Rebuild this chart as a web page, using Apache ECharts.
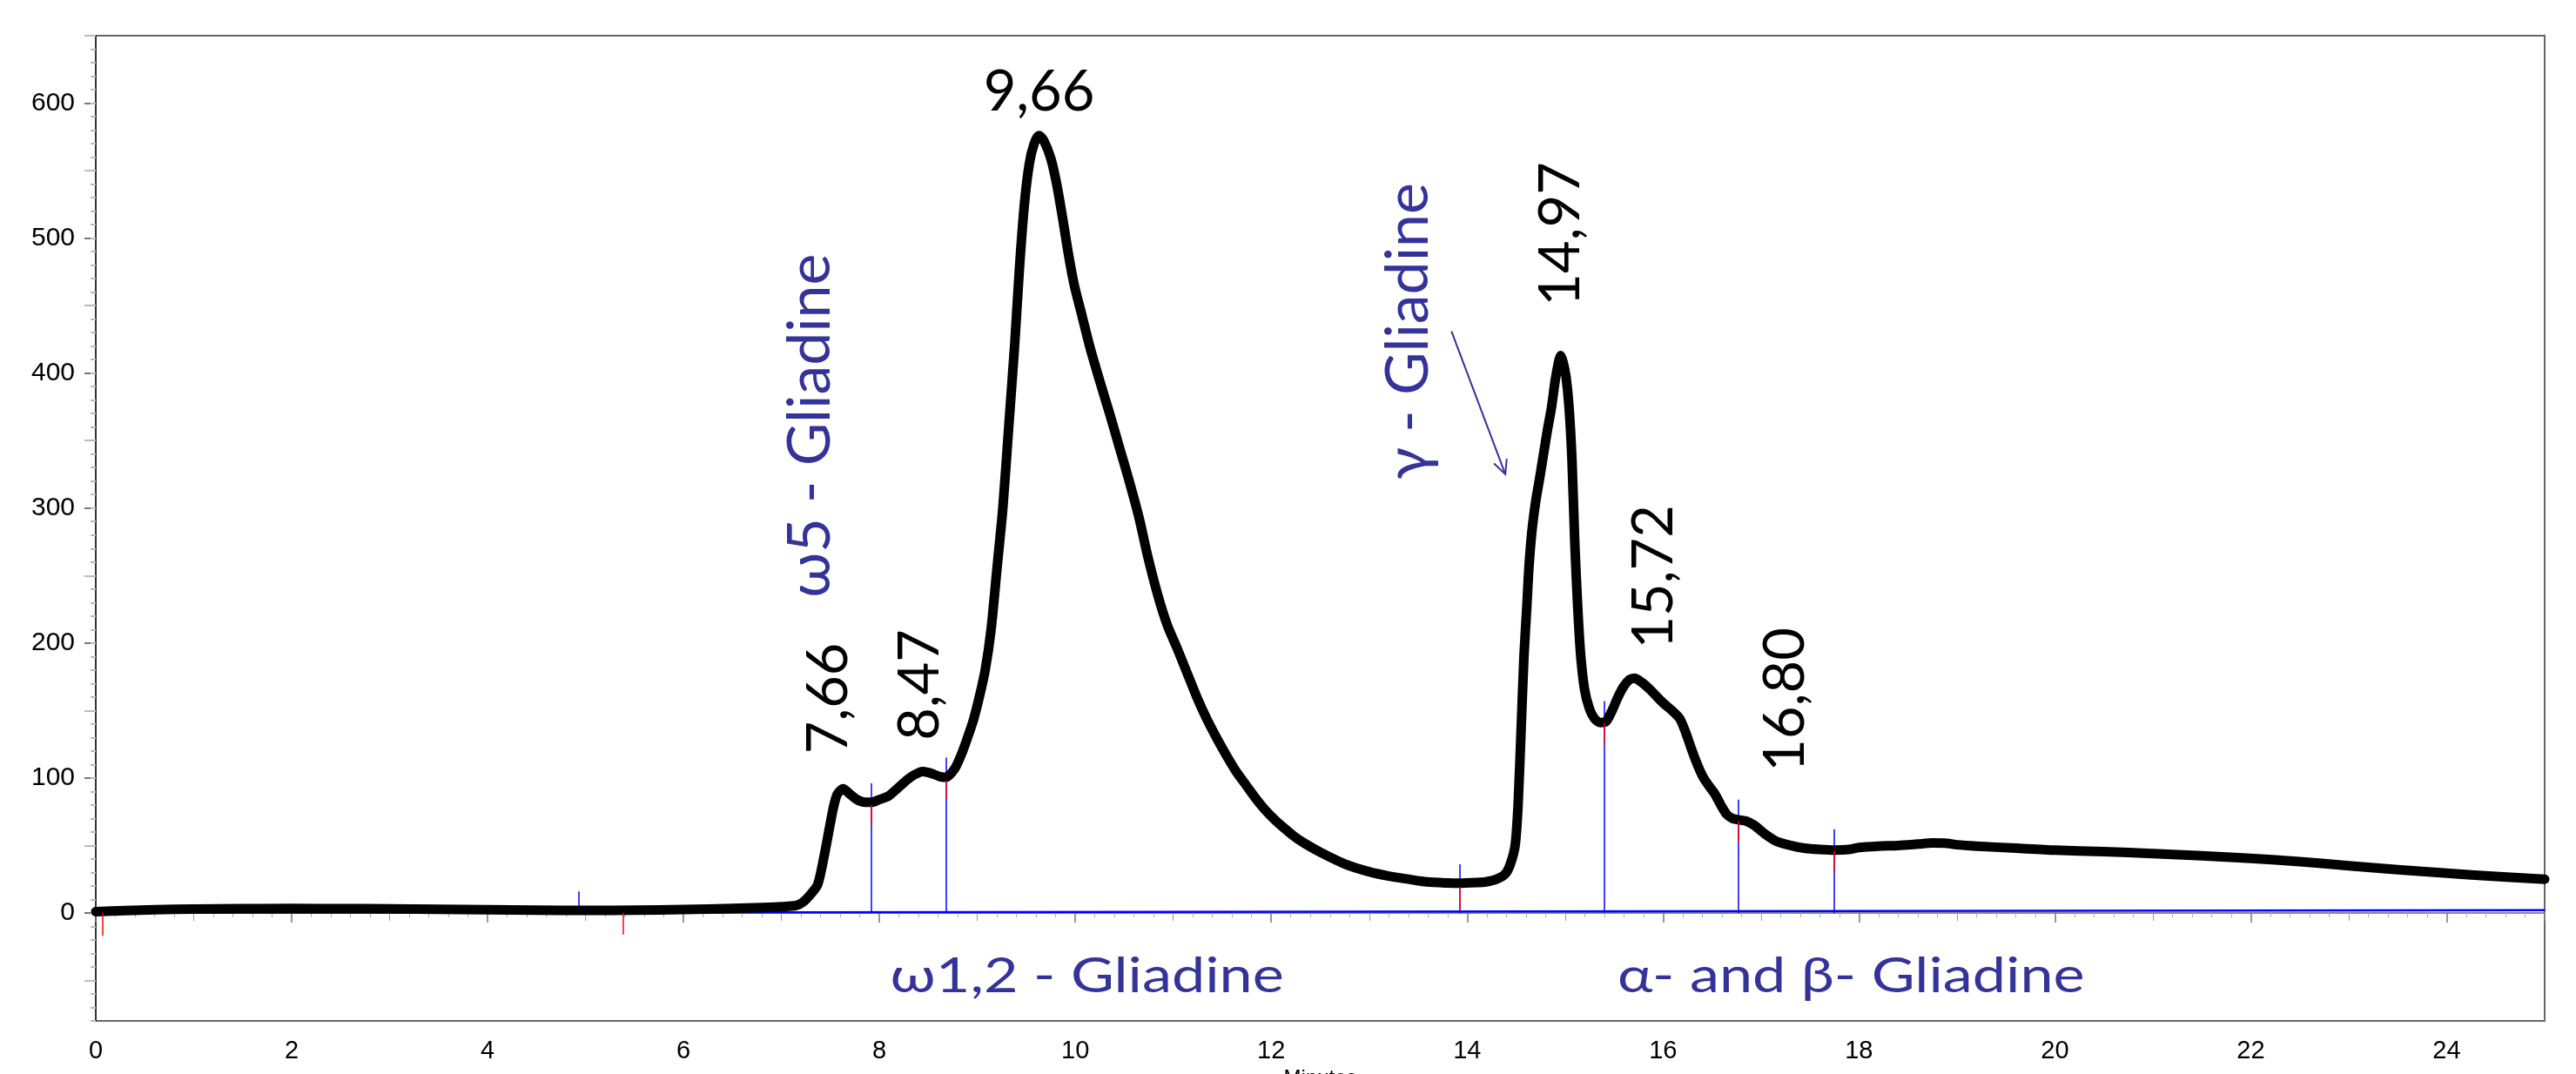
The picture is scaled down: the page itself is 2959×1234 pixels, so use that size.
<!DOCTYPE html>
<html>
<head>
<meta charset="utf-8">
<script src="https://cdn.jsdelivr.net/npm/echarts@6/dist/echarts.min.js"></script>
<style>
html,body{margin:0;padding:0;background:#fff;}
#chart{width:2959px;height:1234px;}
</style>
</head>
<body>
<div id="chart"></div>
<script>
// ---------- data ----------
const curveT = [0,0.3,0.6,1.0,1.5,2.0,2.5,3.0,3.5,4.0,4.5,5.0,5.5,6.0,6.5,6.8,7.0,7.15,7.22,7.3,7.37,7.43,7.49,7.53,7.57,7.63,7.70,7.77,7.85,7.92,8.0,8.09,8.18,8.28,8.36,8.44,8.50,8.56,8.62,8.68,8.77,8.84,8.90,8.96,9.02,9.08,9.14,9.20,9.26,9.32,9.38,9.43,9.48,9.53,9.58,9.63,9.68,9.75,9.81,9.87,9.93,9.99,10.07,10.15,10.25,10.35,10.45,10.55,10.65,10.74,10.84,10.94,11.04,11.14,11.24,11.34,11.44,11.54,11.64,11.74,11.84,11.93,12.03,12.13,12.23,12.33,12.5,12.76,13.0,13.2,13.4,13.59,13.8,13.92,14.1,14.19,14.3,14.39,14.44,14.49,14.52,14.55,14.58,14.61,14.63,14.66,14.70,14.74,14.78,14.82,14.86,14.90,14.93,14.955,14.98,15.01,15.04,15.07,15.10,15.13,15.16,15.20,15.25,15.30,15.36,15.42,15.48,15.54,15.60,15.66,15.71,15.78,15.86,15.94,16.01,16.09,16.17,16.23,16.29,16.35,16.41,16.47,16.53,16.59,16.65,16.71,16.77,16.85,16.93,17.05,17.16,17.3,17.44,17.6,17.76,17.9,18.0,18.2,18.4,18.6,18.75,18.9,19.0,19.2,19.6,20.0,20.5,21.0,21.5,22.0,22.5,23.0,23.5,24.0,24.5,25.0];
const curveV = [1,1.8,2.4,2.9,3.2,3.3,3.2,3.0,2.7,2.4,2.1,1.9,2.0,2.5,3.3,4.0,4.6,5.5,8,14,21,40,63,78,88,92,88,84,82,82,84,86.5,92,98.5,102.5,104.8,104,102.6,101,100.5,107,118,130,143,160,180,210,255,300,360,420,478,525,555,570,576,572,559,540,515,488,465,442,419,394,370,345,320,293,264,236,213,196,178,160,144,130,117,105,95,85,77,69.5,63,57,52,45,36,30.5,27.3,25,23,22.2,22,22.5,23,25,29,36,50,80,134,190,228,255,282,305,322,340,358,374,395,407,413,408,397,375,336,272,225,190,165,151,144,141,142,150,160,168,173,174,171,166,160,155,150,144,134,121.5,110,100.5,94,88,80,73,70,69,68,65,58,53,50,48,47,46.5,47,48.5,49.5,50,51,51.8,51.5,50.5,49.5,48,46.5,45.5,44,42.3,40.5,38,35,32,29.5,27,25,23];

// integration baselines (time, value)
const baseA_T = [0.07, 4.93];
const baseA_V = [0, 0.3];
const baseB_T = [5.38, 25];
const baseB_V = [0.3, 2];

// integration event markers: blue (from baseline to top), red (short segments)
const blueMarkT   = [4.93, 7.92, 8.68, 13.92, 15.40, 16.77, 17.75];
const blueMarkTop = [16, 96, 115, 36, 157, 84, 62];
const redMarkT    = [0.07, 5.38, 7.92, 8.68, 13.92, 15.40, 16.77, 17.75];
const redMarkFrom = [0, 0, 80, 98, 19, 141, 68, 46];
const redMarkTo   = [-17, -16, 65, 84, 2, 125, 52, 30];

// tick labels
const xTickLabels = [0,2,4,6,8,10,12,14,16,18,20,22,24];
const yTickLabels = [0,100,200,300,400,500,600];

// annotations
const peakTexts = ['9,66','7,66','8,47','14,97','15,72','16,80'];
const peakT     = [9.63, 7.48, 8.42, 14.96, 15.91, 17.25];
const peakV     = [608, 159, 169, 503, 249, 158];
const peakRot   = [0, 90, 90, 90, 90, 90];

const groupTexts = ['ω5 - Gliadine','γ - Gliadine','ω1,2 - Gliadine','α- and β- Gliadine'];
const groupT     = [7.30, 13.40, 10.12, 17.92];
const groupV     = [361, 431, -47, -47];
const groupRot   = [90, 90, 0, 0];

const arrowFrom = [13.84, 431];
const arrowTo   = [14.39, 325];

// ---------- chart ----------
const chart = echarts.init(document.getElementById('chart'), null, {renderer:'canvas'});

const X_MIN = 0, X_MAX = 25, Y_MIN = -80, Y_MAX = 650;
const yMinorTicks = []; for (let v = -80; v <= 650; v += 10) yMinorTicks.push(v);
const yMidTicks = []; for (let v = -50; v <= 650; v += 100) yMidTicks.push(v);
const xMidTicks = []; for (let v = 1; v <= 25; v += 2) xMidTicks.push(v);
xMidTicks.push(25);

const curveData = curveT.map((t,i)=>[t, curveV[i]]);
const baseAData = baseA_T.map((t,i)=>[t, baseA_V[i]]);
const baseBData = baseB_T.map((t,i)=>[t, baseB_V[i]]);
const blueLines = blueMarkT.map((t,i)=>[{coord:[t, 0]},{coord:[t, blueMarkTop[i]]}]);
const redLines  = redMarkT.map((t,i)=>[{coord:[t, redMarkFrom[i]]},{coord:[t, redMarkTo[i]]}]);

const labelFont = 'Liberation Sans, Arial, sans-serif';

const baseXAxis = {type:'value', min:X_MIN, max:X_MAX, gridIndex:0, splitLine:{show:false}};
const baseYAxis = {type:'value', min:Y_MIN, max:Y_MAX, gridIndex:0, position:'left', offset:0, splitLine:{show:false}};

const option = {
  animation:false,
  backgroundColor:'#fff',
  grid:{left:110, right:36, top:41, bottom:61, containLabel:false, outerBoundsMode:'none',
        show:true, borderColor:'#666', borderWidth:2, backgroundColor:'transparent'},
  xAxis:[
    Object.assign({}, baseXAxis, {
      interval:2,
      name:'Minutes', nameLocation:'middle', nameGap:52,
      nameTextStyle:{fontSize:24, color:'#000', fontFamily:labelFont},
      axisLine:{show:true, lineStyle:{color:'#888', width:2}},
      axisTick:{show:true, length:11, lineStyle:{color:'#777', width:1.5}, customValues:xTickLabels},
      minorTick:{show:true, splitNumber:10, length:5, lineStyle:{color:'#aaa', width:1}},
      axisLabel:{show:true, margin:20, fontSize:29, color:'#000', fontFamily:labelFont,
                 customValues:xTickLabels}
    }),
    Object.assign({}, baseXAxis, {
      position:'bottom', offset:0,
      axisLine:{show:false},
      axisTick:{show:true, length:9, lineStyle:{color:'#999', width:1}, customValues:xMidTicks},
      axisLabel:{show:false}
    })
  ],
  yAxis:[
    Object.assign({}, baseYAxis, {
      axisLine:{show:true, lineStyle:{color:'#333', width:2}},
      axisTick:{show:true, length:13, lineStyle:{color:'#777', width:2}, customValues:yTickLabels},
      axisLabel:{show:true, margin:24, fontSize:30, color:'#000', fontFamily:labelFont, customValues:yTickLabels}
    }),
    Object.assign({}, baseYAxis, {
      axisLine:{show:false},
      axisTick:{show:true, length:6, lineStyle:{color:'#bbb', width:2}, customValues:yMinorTicks},
      axisLabel:{show:false}
    }),
    Object.assign({}, baseYAxis, {
      axisLine:{show:false},
      axisTick:{show:true, length:13, lineStyle:{color:'#bbb', width:2}, customValues:yMidTicks},
      axisLabel:{show:false}
    })
  ],
  series:[
    {
      type:'line', name:'baseA', data:baseAData, showSymbol:false, symbol:'none', z:1,
      lineStyle:{color:'#0000ff', width:2},
      markLine:{silent:true, symbol:['none','none'], label:{show:false},
        lineStyle:{color:'#0000ff', width:1.5, type:'solid'}, data:blueLines, z:1}
    },
    {
      type:'line', name:'baseB', data:baseBData, showSymbol:false, symbol:'none', z:1,
      lineStyle:{color:'#0000ff', width:2.5}
    },
    {
      type:'line', name:'signal', data:curveData, showSymbol:false, symbol:'none', z:3,
      smooth:0.25,
      lineStyle:{color:'#000', width:11, cap:'round', join:'round'}
    },
    {
      type:'line', name:'red', data:[], showSymbol:false, z:4,
      markLine:{silent:true, symbol:['none','none'], label:{show:false},
        lineStyle:{color:'#ff0000', width:1.5, type:'solid'}, data:redLines, z:4}
    }
  ]
};
chart.setOption(option);

function px(t, v){ return chart.convertToPixel({xAxisIndex:0, yAxisIndex:0}, [t, v]); }

const graphics = [];
peakTexts.forEach((txt,i)=>{
  const p = px(peakT[i], peakV[i]);
  graphics.push({type:'text', x:p[0], y:p[1], rotation:peakRot[i]*Math.PI/180, z:20,
    style:{text:txt, fill:'#000', fontSize:65, fontFamily:'Lato, "Open Sans", sans-serif',
           align:'center', verticalAlign:'middle'}});
});
groupTexts.forEach((txt,i)=>{
  const p = px(groupT[i], groupV[i]);
  const horiz = groupRot[i] === 0;
  graphics.push({type:'text', x:p[0], y:p[1], rotation:groupRot[i]*Math.PI/180, z:20,
    scaleX: horiz ? 1.22 : 1,
    style:{text:txt, fill:'#333399', fontSize: horiz ? 56 : 68, fontFamily:'Lato, "Open Sans", sans-serif',
           align:'center', verticalAlign:'middle'}});
});
// arrow
const a0 = px(arrowFrom[0], arrowFrom[1]);
const a1 = px(arrowTo[0], arrowTo[1]);
const ang = Math.atan2(a1[1]-a0[1], a1[0]-a0[0]);
const hl = 18, ha = 0.45;
graphics.push({type:'polyline', z:20, shape:{points:[a0, a1]}, style:{stroke:'#333399', lineWidth:2, fill:null}});
graphics.push({type:'polyline', z:20, shape:{points:[
  [a1[0]-hl*Math.cos(ang-ha), a1[1]-hl*Math.sin(ang-ha)], a1,
  [a1[0]-hl*Math.cos(ang+ha), a1[1]-hl*Math.sin(ang+ha)]]},
  style:{stroke:'#333399', lineWidth:2, fill:null}});
chart.setOption({graphic:graphics});
</script>
</body>
</html>
